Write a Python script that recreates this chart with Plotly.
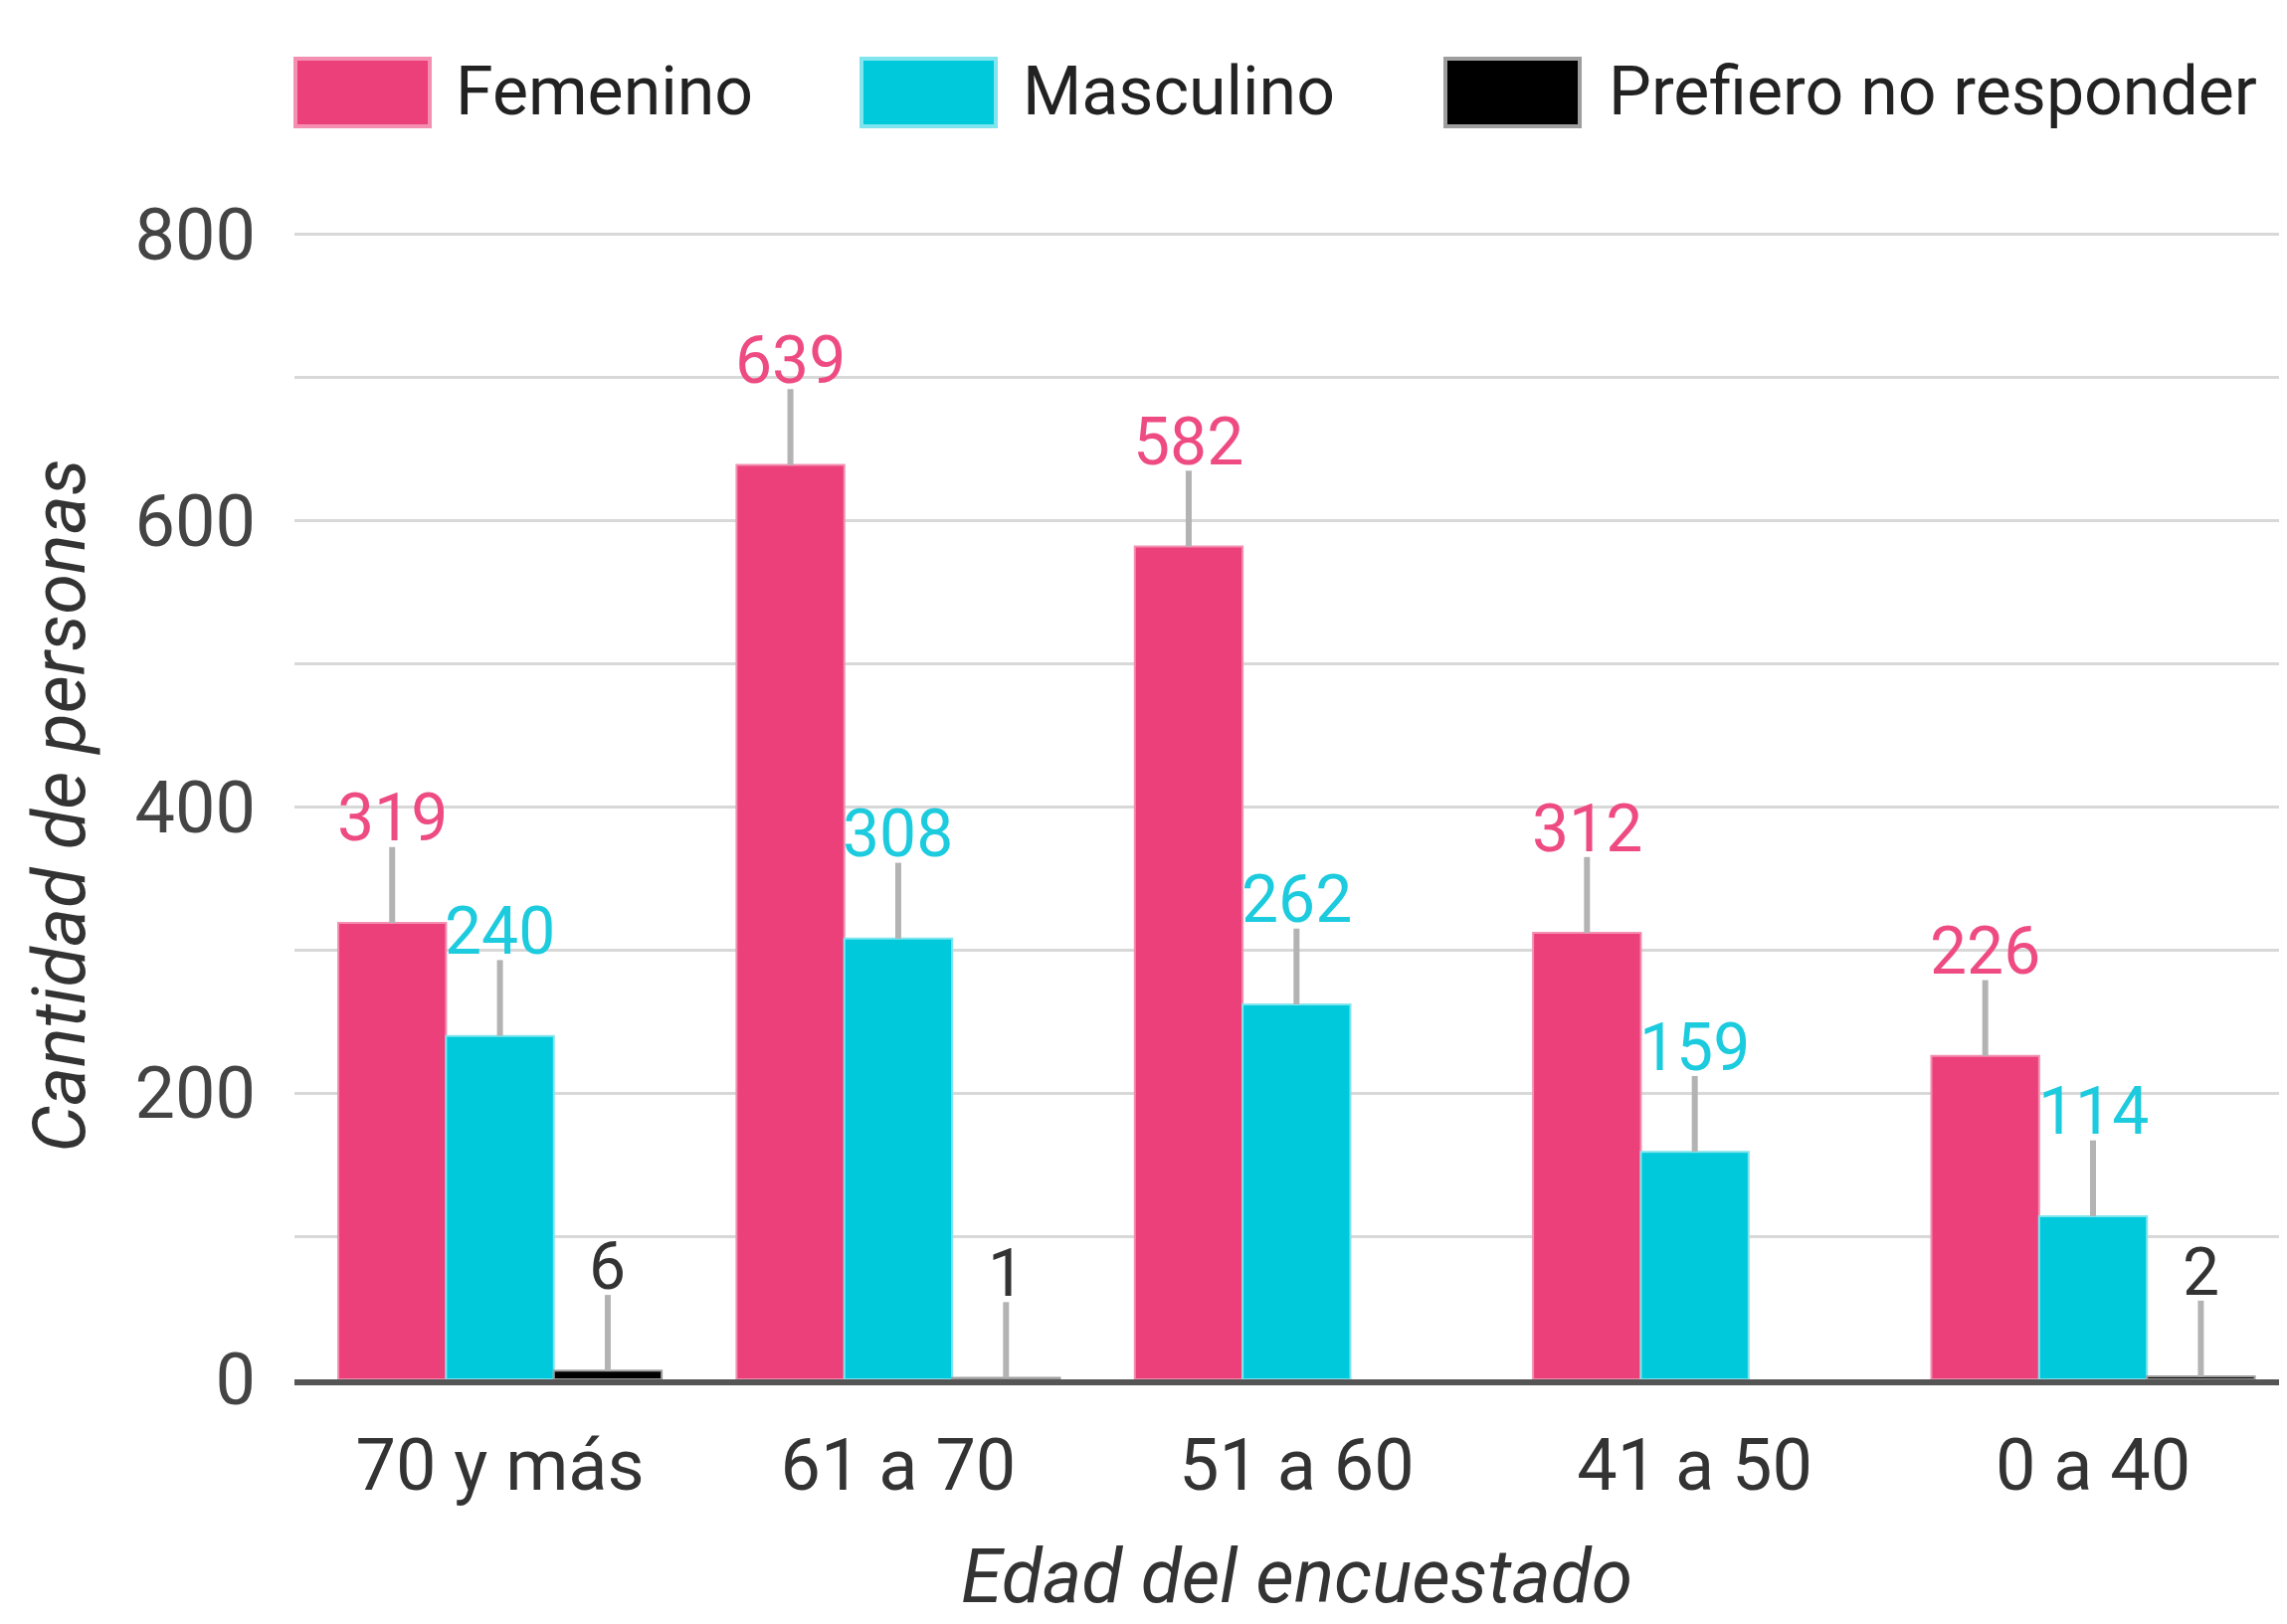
import plotly.graph_objects as go

# ---- data ----
categories = ["70 y más", "61 a 70", "51 a 60", "41 a 50", "0 a 40"]
femenino = [319, 639, 582, 312, 226]
masculino = [240, 308, 262, 159, 114]
prefiero = [6, 1, None, None, 2]
series_names = ["Femenino", "Masculino", "Prefiero no responder"]
y_ticks = [0, 200, 400, 600, 800]
x_title = "Edad del encuestado"
y_title = "Cantidad de personas"

# ---- style ----
OFF = 8  # page body margin
W, H = 2299 - OFF, 1633 - OFF
L, R, T, B = 296 - OFF, 2299 - OFF, 225, 1379
FONT = "Roboto"
colors = ["#EC407A", "#00C9DB", "#000000"]
borders = ["#F48FB1", "#80E5EE", "#9E9E9E"]
label_colors = ["#EE4B82", "#1CCBDD", "#333333"]
LEADER = 53      # leader line length in data units
LABEL_OFF = 73   # label centre above bar top, data units
BARGAP = 0.188

def px_x(x):
    return (x - OFF - L) / (R - L)

def px_y(y):
    return (B - (y - OFF)) / (B - T)

fig = go.Figure()
all_series = [femenino, masculino, prefiero]
for name, vals, c, bc in zip(series_names, all_series, colors, borders):
    fig.add_trace(go.Bar(
        x=categories, y=vals, name=name,
        marker=dict(color=c, line=dict(color=bc, width=2)),
        error_y=dict(type="data", symmetric=False,
                     array=[LEADER if v is not None else None for v in vals],
                     arrayminus=[0 if v is not None else None for v in vals],
                     color="#B3B3B3", thickness=6, width=0),
        showlegend=False,
    ))

# data labels
bw = (1 - BARGAP) / 3
annotations = []
for si, (vals, lc) in enumerate(zip(all_series, label_colors)):
    for ci, v in enumerate(vals):
        if v is None:
            continue
        annotations.append(dict(
            x=ci + (si - 1) * bw, y=v + LABEL_OFF, xref="x", yref="y",
            text=str(v), showarrow=False, yanchor="middle",
            font=dict(family=FONT, size=66, color=lc),
        ))

# custom legend
legend_items = [(297, 456), (866, 1026), (1453, 1615)]
shapes = []
for (sx, tx), name, c, bc in zip(legend_items, series_names, colors, borders):
    shapes.append(dict(type="rect", xref="paper", yref="paper",
                       x0=px_x(sx), x1=px_x(sx + 135), y0=px_y(127), y1=px_y(59),
                       fillcolor=c, line=dict(color=bc, width=4)))
    annotations.append(dict(x=px_x(tx), y=px_y(92), xref="paper", yref="paper",
                            text=name, showarrow=False, xanchor="left", yanchor="middle",
                            font=dict(family=FONT, size=68, color="#222222")))

# x-axis title placed as annotation, kept inside the figure
annotations.append(dict(x=px_x(1303), y=px_y(1630), xref="paper", yref="paper",
                        text="<i>" + x_title + "</i>", showarrow=False,
                        xanchor="center", yanchor="bottom", borderpad=0,
                        font=dict(family=FONT, size=75, color="#333333")))

fig.update_layout(
    width=W, height=H,
    margin=dict(l=L, r=W - R, t=T, b=H - B, pad=0, autoexpand=False),
    paper_bgcolor="white", plot_bgcolor="white",
    barmode="group", bargap=BARGAP, bargroupgap=0,
    font=dict(family=FONT, color="#444444"),
    annotations=annotations, shapes=shapes,
    xaxis=dict(
        range=[-0.516, 4.487], automargin=False,
        showline=True, linecolor="#555555", linewidth=6,
        showgrid=False, ticks="", ticklabelstandoff=19,
        tickfont=dict(family=FONT, size=72, color="#333333"),
    ),
    yaxis=dict(
        range=[0, 802], tickvals=y_ticks, ticktext=[str(t) for t in y_ticks],
        automargin=False,
        showgrid=True, gridcolor="#D8D8D8", gridwidth=3,
        minor=dict(dtick=100, showgrid=True, gridcolor="#D8D8D8", gridwidth=3),
        zeroline=False, ticks="", ticklabelstandoff=38,
        tickfont=dict(family=FONT, size=72, color="#444444"),
        title=dict(text="<i>" + y_title + "</i>", standoff=25,
                   font=dict(family=FONT, size=74, color="#333333")),
    ),
)

fig.write_html("out.html")
